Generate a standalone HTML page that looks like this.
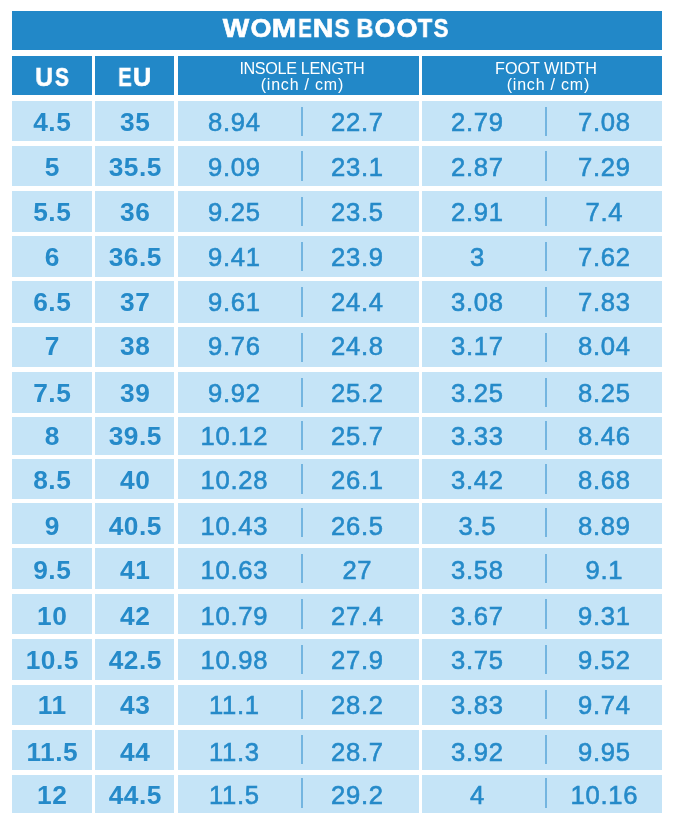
<!DOCTYPE html><html><head><meta charset="utf-8"><style>
html,body{margin:0;padding:0;background:#fff;width:674px;height:827px;overflow:hidden;position:relative}
*{box-sizing:border-box}
.t{will-change:transform}
.b{position:absolute}
.d{position:absolute;background:#2288c8}
.l{position:absolute;background:#c5e4f7}
.v{position:absolute;background:#74b5e0;width:2px}
.t{position:absolute;width:200px;margin-left:-100px;text-align:center;white-space:nowrap;font-family:"Liberation Sans",sans-serif;color:#258ac9;height:40px;line-height:40px}
.n{font-size:25.6px;letter-spacing:0.7px;text-indent:0.7px;-webkit-text-stroke:0.6px #258ac9}
.nb{font-size:26.3px;font-weight:bold;letter-spacing:0.5px;text-indent:0.5px;-webkit-text-stroke:0px #258ac9}
.w{color:#fff}
.wb{-webkit-text-stroke:0.6px #fff}
</style></head><body>
<div class="d" style="left:12px;top:10.6px;width:650px;height:39.4px"></div>
<div class="t w wb" style="left:236.15px;top:8px;width:50px;margin-left:-25px;font-size:25.5px;font-weight:bold;transform:scaleX(1.1)">W</div>
<div class="t w wb" style="left:260.85px;top:8px;width:50px;margin-left:-25px;font-size:25.5px;font-weight:bold;transform:scaleX(1.06)">O</div>
<div class="t w wb" style="left:283.9px;top:8px;width:50px;margin-left:-25px;font-size:25.5px;font-weight:bold;transform:scaleX(1.15)">M</div>
<div class="t w wb" style="left:304.85px;top:8px;width:50px;margin-left:-25px;font-size:25.5px;font-weight:bold;transform:scaleX(0.8)">E</div>
<div class="t w wb" style="left:322.75px;top:8px;width:50px;margin-left:-25px;font-size:25.5px;font-weight:bold;transform:scaleX(1.12)">N</div>
<div class="t w wb" style="left:342px;top:8px;width:50px;margin-left:-25px;font-size:25.5px;font-weight:bold;transform:scaleX(0.9)">S</div>
<div class="t w wb" style="left:365.35px;top:8px;width:50px;margin-left:-25px;font-size:25.5px;font-weight:bold;transform:scaleX(0.93)">B</div>
<div class="t w wb" style="left:385.05px;top:8px;width:50px;margin-left:-25px;font-size:25.5px;font-weight:bold;transform:scaleX(1.05)">O</div>
<div class="t w wb" style="left:406.55px;top:8px;width:50px;margin-left:-25px;font-size:25.5px;font-weight:bold;transform:scaleX(1.06)">O</div>
<div class="t w wb" style="left:424.8px;top:8px;width:50px;margin-left:-25px;font-size:25.5px;font-weight:bold;transform:scaleX(0.93)">T</div>
<div class="t w wb" style="left:440.65px;top:8px;width:50px;margin-left:-25px;font-size:25.5px;font-weight:bold;transform:scaleX(0.87)">S</div>
<div class="d" style="left:12px;top:55.6px;width:79.7px;height:39.4px"></div>
<div class="d" style="left:95px;top:55.6px;width:79.2px;height:39.4px"></div>
<div class="d" style="left:178px;top:55.6px;width:241.2px;height:39.4px"></div>
<div class="d" style="left:421.7px;top:55.6px;width:240.3px;height:39.4px"></div>
<div class="t w wb" style="left:44.15px;top:57px;width:50px;margin-left:-25px;font-size:25.2px;font-weight:bold;transform:scaleX(0.98)">U</div>
<div class="t w wb" style="left:62.35px;top:57px;width:50px;margin-left:-25px;font-size:25.2px;font-weight:bold;transform:scaleX(0.82)">S</div>
<div class="t w wb" style="left:125.2px;top:57px;width:50px;margin-left:-25px;font-size:25.2px;font-weight:bold;transform:scaleX(0.8)">E</div>
<div class="t w wb" style="left:142.45px;top:57px;width:50px;margin-left:-25px;font-size:25.2px;font-weight:bold;transform:scaleX(1)">U</div>
<div class="t w" style="left:301.6px;top:60px;height:16.3px;font-size:16.2px;line-height:16.3px;letter-spacing:-0.36px;text-indent:-0.36px">INSOLE LENGTH</div>
<div class="t w" style="left:301.6px;top:76.6px;height:16.3px;font-size:16px;line-height:16.3px;letter-spacing:0.8px;text-indent:0.8px">(inch / cm)</div>
<div class="t w" style="left:546px;top:60px;height:16.3px;font-size:16.2px;line-height:16.3px;letter-spacing:-0.05px;text-indent:-0.05px">FOOT WIDTH</div>
<div class="t w" style="left:547.5px;top:76.6px;height:16.3px;font-size:16px;line-height:16.3px;letter-spacing:0.8px;text-indent:0.8px">(inch / cm)</div>
<div class="l" style="left:12px;top:101.05px;width:79.7px;height:40.15px"></div>
<div class="l" style="left:95px;top:101.05px;width:79.2px;height:40.15px"></div>
<div class="l" style="left:178px;top:101.05px;width:241.2px;height:40.15px"></div>
<div class="l" style="left:421.7px;top:101.05px;width:240.3px;height:40.15px"></div>
<div class="v" style="left:301px;top:106.83px;height:29.6px"></div>
<div class="v" style="left:545px;top:106.83px;height:29.6px"></div>
<div class="t nb" style="left:51.5px;top:102px">4.5</div>
<div class="t nb" style="left:134.6px;top:102px">35</div>
<div class="t n" style="left:234px;top:102px">8.94</div>
<div class="t n" style="left:356.7px;top:102px">22.7</div>
<div class="t n" style="left:477.4px;top:102px">2.79</div>
<div class="t n" style="left:604.3px;top:102px">7.08</div>
<div class="l" style="left:12px;top:145.8px;width:79.7px;height:40.7px"></div>
<div class="l" style="left:95px;top:145.8px;width:79.2px;height:40.7px"></div>
<div class="l" style="left:178px;top:145.8px;width:241.2px;height:40.7px"></div>
<div class="l" style="left:421.7px;top:145.8px;width:240.3px;height:40.7px"></div>
<div class="v" style="left:301px;top:151.35px;height:29.6px"></div>
<div class="v" style="left:545px;top:151.35px;height:29.6px"></div>
<div class="t nb" style="left:51.5px;top:147px">5</div>
<div class="t nb" style="left:134.6px;top:147px">35.5</div>
<div class="t n" style="left:234px;top:147px">9.09</div>
<div class="t n" style="left:356.7px;top:147px">23.1</div>
<div class="t n" style="left:477.4px;top:147px">2.87</div>
<div class="t n" style="left:604.3px;top:147px">7.29</div>
<div class="l" style="left:12px;top:190.9px;width:79.7px;height:40.85px"></div>
<div class="l" style="left:95px;top:190.9px;width:79.2px;height:40.85px"></div>
<div class="l" style="left:178px;top:190.9px;width:241.2px;height:40.85px"></div>
<div class="l" style="left:421.7px;top:190.9px;width:240.3px;height:40.85px"></div>
<div class="v" style="left:301px;top:196.52px;height:29.6px"></div>
<div class="v" style="left:545px;top:196.52px;height:29.6px"></div>
<div class="t nb" style="left:51.5px;top:192px">5.5</div>
<div class="t nb" style="left:134.6px;top:192px">36</div>
<div class="t n" style="left:234px;top:192px">9.25</div>
<div class="t n" style="left:356.7px;top:192px">23.5</div>
<div class="t n" style="left:477.4px;top:192px">2.91</div>
<div class="t n" style="left:604.3px;top:192px">7.4</div>
<div class="l" style="left:12px;top:236.2px;width:79.7px;height:40.8px"></div>
<div class="l" style="left:95px;top:236.2px;width:79.2px;height:40.8px"></div>
<div class="l" style="left:178px;top:236.2px;width:241.2px;height:40.8px"></div>
<div class="l" style="left:421.7px;top:236.2px;width:240.3px;height:40.8px"></div>
<div class="v" style="left:301px;top:241.8px;height:29.6px"></div>
<div class="v" style="left:545px;top:241.8px;height:29.6px"></div>
<div class="t nb" style="left:51.5px;top:237px">6</div>
<div class="t nb" style="left:134.6px;top:237px">36.5</div>
<div class="t n" style="left:234px;top:237px">9.41</div>
<div class="t n" style="left:356.7px;top:237px">23.9</div>
<div class="t n" style="left:477.4px;top:237px">3</div>
<div class="t n" style="left:604.3px;top:237px">7.62</div>
<div class="l" style="left:12px;top:281.2px;width:79.7px;height:41.4px"></div>
<div class="l" style="left:95px;top:281.2px;width:79.2px;height:41.4px"></div>
<div class="l" style="left:178px;top:281.2px;width:241.2px;height:41.4px"></div>
<div class="l" style="left:421.7px;top:281.2px;width:240.3px;height:41.4px"></div>
<div class="v" style="left:301px;top:287.1px;height:29.6px"></div>
<div class="v" style="left:545px;top:287.1px;height:29.6px"></div>
<div class="t nb" style="left:51.5px;top:282px">6.5</div>
<div class="t nb" style="left:134.6px;top:282px">37</div>
<div class="t n" style="left:234px;top:282px">9.61</div>
<div class="t n" style="left:356.7px;top:282px">24.4</div>
<div class="t n" style="left:477.4px;top:282px">3.08</div>
<div class="t n" style="left:604.3px;top:282px">7.83</div>
<div class="l" style="left:12px;top:326.9px;width:79.7px;height:40.4px"></div>
<div class="l" style="left:95px;top:326.9px;width:79.2px;height:40.4px"></div>
<div class="l" style="left:178px;top:326.9px;width:241.2px;height:40.4px"></div>
<div class="l" style="left:421.7px;top:326.9px;width:240.3px;height:40.4px"></div>
<div class="v" style="left:301px;top:332.7px;height:29.6px"></div>
<div class="v" style="left:545px;top:332.7px;height:29.6px"></div>
<div class="t nb" style="left:51.5px;top:326px">7</div>
<div class="t nb" style="left:134.6px;top:326px">38</div>
<div class="t n" style="left:234px;top:326px">9.76</div>
<div class="t n" style="left:356.7px;top:326px">24.8</div>
<div class="t n" style="left:477.4px;top:326px">3.17</div>
<div class="t n" style="left:604.3px;top:326px">8.04</div>
<div class="l" style="left:12px;top:372.1px;width:79.7px;height:40.5px"></div>
<div class="l" style="left:95px;top:372.1px;width:79.2px;height:40.5px"></div>
<div class="l" style="left:178px;top:372.1px;width:241.2px;height:40.5px"></div>
<div class="l" style="left:421.7px;top:372.1px;width:240.3px;height:40.5px"></div>
<div class="v" style="left:301px;top:377.55px;height:29.6px"></div>
<div class="v" style="left:545px;top:377.55px;height:29.6px"></div>
<div class="t nb" style="left:51.5px;top:373px">7.5</div>
<div class="t nb" style="left:134.6px;top:373px">39</div>
<div class="t n" style="left:234px;top:373px">9.92</div>
<div class="t n" style="left:356.7px;top:373px">25.2</div>
<div class="t n" style="left:477.4px;top:373px">3.25</div>
<div class="t n" style="left:604.3px;top:373px">8.25</div>
<div class="l" style="left:12px;top:416.6px;width:79.7px;height:38.3px"></div>
<div class="l" style="left:95px;top:416.6px;width:79.2px;height:38.3px"></div>
<div class="l" style="left:178px;top:416.6px;width:241.2px;height:38.3px"></div>
<div class="l" style="left:421.7px;top:416.6px;width:240.3px;height:38.3px"></div>
<div class="v" style="left:301px;top:420.5px;height:29.6px"></div>
<div class="v" style="left:545px;top:420.5px;height:29.6px"></div>
<div class="t nb" style="left:51.5px;top:416px">8</div>
<div class="t nb" style="left:134.6px;top:416px">39.5</div>
<div class="t n" style="left:234px;top:416px">10.12</div>
<div class="t n" style="left:356.7px;top:416px">25.7</div>
<div class="t n" style="left:477.4px;top:416px">3.33</div>
<div class="t n" style="left:604.3px;top:416px">8.46</div>
<div class="l" style="left:12px;top:458.9px;width:79.7px;height:39.8px"></div>
<div class="l" style="left:95px;top:458.9px;width:79.2px;height:39.8px"></div>
<div class="l" style="left:178px;top:458.9px;width:241.2px;height:39.8px"></div>
<div class="l" style="left:421.7px;top:458.9px;width:240.3px;height:39.8px"></div>
<div class="v" style="left:301px;top:464px;height:29.6px"></div>
<div class="v" style="left:545px;top:464px;height:29.6px"></div>
<div class="t nb" style="left:51.5px;top:460px">8.5</div>
<div class="t nb" style="left:134.6px;top:460px">40</div>
<div class="t n" style="left:234px;top:460px">10.28</div>
<div class="t n" style="left:356.7px;top:460px">26.1</div>
<div class="t n" style="left:477.4px;top:460px">3.42</div>
<div class="t n" style="left:604.3px;top:460px">8.68</div>
<div class="l" style="left:12px;top:503.1px;width:79.7px;height:40.7px"></div>
<div class="l" style="left:95px;top:503.1px;width:79.2px;height:40.7px"></div>
<div class="l" style="left:178px;top:503.1px;width:241.2px;height:40.7px"></div>
<div class="l" style="left:421.7px;top:503.1px;width:240.3px;height:40.7px"></div>
<div class="v" style="left:301px;top:507.65px;height:29.6px"></div>
<div class="v" style="left:545px;top:507.65px;height:29.6px"></div>
<div class="t nb" style="left:51.5px;top:506px">9</div>
<div class="t nb" style="left:134.6px;top:506px">40.5</div>
<div class="t n" style="left:234px;top:506px">10.43</div>
<div class="t n" style="left:356.7px;top:506px">26.5</div>
<div class="t n" style="left:477.4px;top:506px">3.5</div>
<div class="t n" style="left:604.3px;top:506px">8.89</div>
<div class="l" style="left:12px;top:548.3px;width:79.7px;height:40.8px"></div>
<div class="l" style="left:95px;top:548.3px;width:79.2px;height:40.8px"></div>
<div class="l" style="left:178px;top:548.3px;width:241.2px;height:40.8px"></div>
<div class="l" style="left:421.7px;top:548.3px;width:240.3px;height:40.8px"></div>
<div class="v" style="left:301px;top:553.9px;height:29.6px"></div>
<div class="v" style="left:545px;top:553.9px;height:29.6px"></div>
<div class="t nb" style="left:51.5px;top:550px">9.5</div>
<div class="t nb" style="left:134.6px;top:550px">41</div>
<div class="t n" style="left:234px;top:550px">10.63</div>
<div class="t n" style="left:356.7px;top:550px">27</div>
<div class="t n" style="left:477.4px;top:550px">3.58</div>
<div class="t n" style="left:604.3px;top:550px">9.1</div>
<div class="l" style="left:12px;top:593.9px;width:79.7px;height:40.5px"></div>
<div class="l" style="left:95px;top:593.9px;width:79.2px;height:40.5px"></div>
<div class="l" style="left:178px;top:593.9px;width:241.2px;height:40.5px"></div>
<div class="l" style="left:421.7px;top:593.9px;width:240.3px;height:40.5px"></div>
<div class="v" style="left:301px;top:599.35px;height:29.6px"></div>
<div class="v" style="left:545px;top:599.35px;height:29.6px"></div>
<div class="t nb" style="left:51.5px;top:596px">10</div>
<div class="t nb" style="left:134.6px;top:596px">42</div>
<div class="t n" style="left:234px;top:596px">10.79</div>
<div class="t n" style="left:356.7px;top:596px">27.4</div>
<div class="t n" style="left:477.4px;top:596px">3.67</div>
<div class="t n" style="left:604.3px;top:596px">9.31</div>
<div class="l" style="left:12px;top:639px;width:79.7px;height:40.7px"></div>
<div class="l" style="left:95px;top:639px;width:79.2px;height:40.7px"></div>
<div class="l" style="left:178px;top:639px;width:241.2px;height:40.7px"></div>
<div class="l" style="left:421.7px;top:639px;width:240.3px;height:40.7px"></div>
<div class="v" style="left:301px;top:644.55px;height:29.6px"></div>
<div class="v" style="left:545px;top:644.55px;height:29.6px"></div>
<div class="t nb" style="left:51.5px;top:640px">10.5</div>
<div class="t nb" style="left:134.6px;top:640px">42.5</div>
<div class="t n" style="left:234px;top:640px">10.98</div>
<div class="t n" style="left:356.7px;top:640px">27.9</div>
<div class="t n" style="left:477.4px;top:640px">3.75</div>
<div class="t n" style="left:604.3px;top:640px">9.52</div>
<div class="l" style="left:12px;top:684.5px;width:79.7px;height:40.3px"></div>
<div class="l" style="left:95px;top:684.5px;width:79.2px;height:40.3px"></div>
<div class="l" style="left:178px;top:684.5px;width:241.2px;height:40.3px"></div>
<div class="l" style="left:421.7px;top:684.5px;width:240.3px;height:40.3px"></div>
<div class="v" style="left:301px;top:689.85px;height:29.6px"></div>
<div class="v" style="left:545px;top:689.85px;height:29.6px"></div>
<div class="t nb" style="left:51.5px;top:685px">11</div>
<div class="t nb" style="left:134.6px;top:685px">43</div>
<div class="t n" style="left:234px;top:685px">11.1</div>
<div class="t n" style="left:356.7px;top:685px">28.2</div>
<div class="t n" style="left:477.4px;top:685px">3.83</div>
<div class="t n" style="left:604.3px;top:685px">9.74</div>
<div class="l" style="left:12px;top:729.5px;width:79.7px;height:40.4px"></div>
<div class="l" style="left:95px;top:729.5px;width:79.2px;height:40.4px"></div>
<div class="l" style="left:178px;top:729.5px;width:241.2px;height:40.4px"></div>
<div class="l" style="left:421.7px;top:729.5px;width:240.3px;height:40.4px"></div>
<div class="v" style="left:301px;top:734.65px;height:29.6px"></div>
<div class="v" style="left:545px;top:734.65px;height:29.6px"></div>
<div class="t nb" style="left:51.5px;top:732px">11.5</div>
<div class="t nb" style="left:134.6px;top:732px">44</div>
<div class="t n" style="left:234px;top:732px">11.3</div>
<div class="t n" style="left:356.7px;top:732px">28.7</div>
<div class="t n" style="left:477.4px;top:732px">3.92</div>
<div class="t n" style="left:604.3px;top:732px">9.95</div>
<div class="l" style="left:12px;top:775px;width:79.7px;height:38.1px"></div>
<div class="l" style="left:95px;top:775px;width:79.2px;height:38.1px"></div>
<div class="l" style="left:178px;top:775px;width:241.2px;height:38.1px"></div>
<div class="l" style="left:421.7px;top:775px;width:240.3px;height:38.1px"></div>
<div class="v" style="left:301px;top:778.1px;height:29.6px"></div>
<div class="v" style="left:545px;top:778.1px;height:29.6px"></div>
<div class="t nb" style="left:51.5px;top:775px">12</div>
<div class="t nb" style="left:134.6px;top:775px">44.5</div>
<div class="t n" style="left:234px;top:775px">11.5</div>
<div class="t n" style="left:356.7px;top:775px">29.2</div>
<div class="t n" style="left:477.4px;top:775px">4</div>
<div class="t n" style="left:604.3px;top:775px">10.16</div>
</body></html>
